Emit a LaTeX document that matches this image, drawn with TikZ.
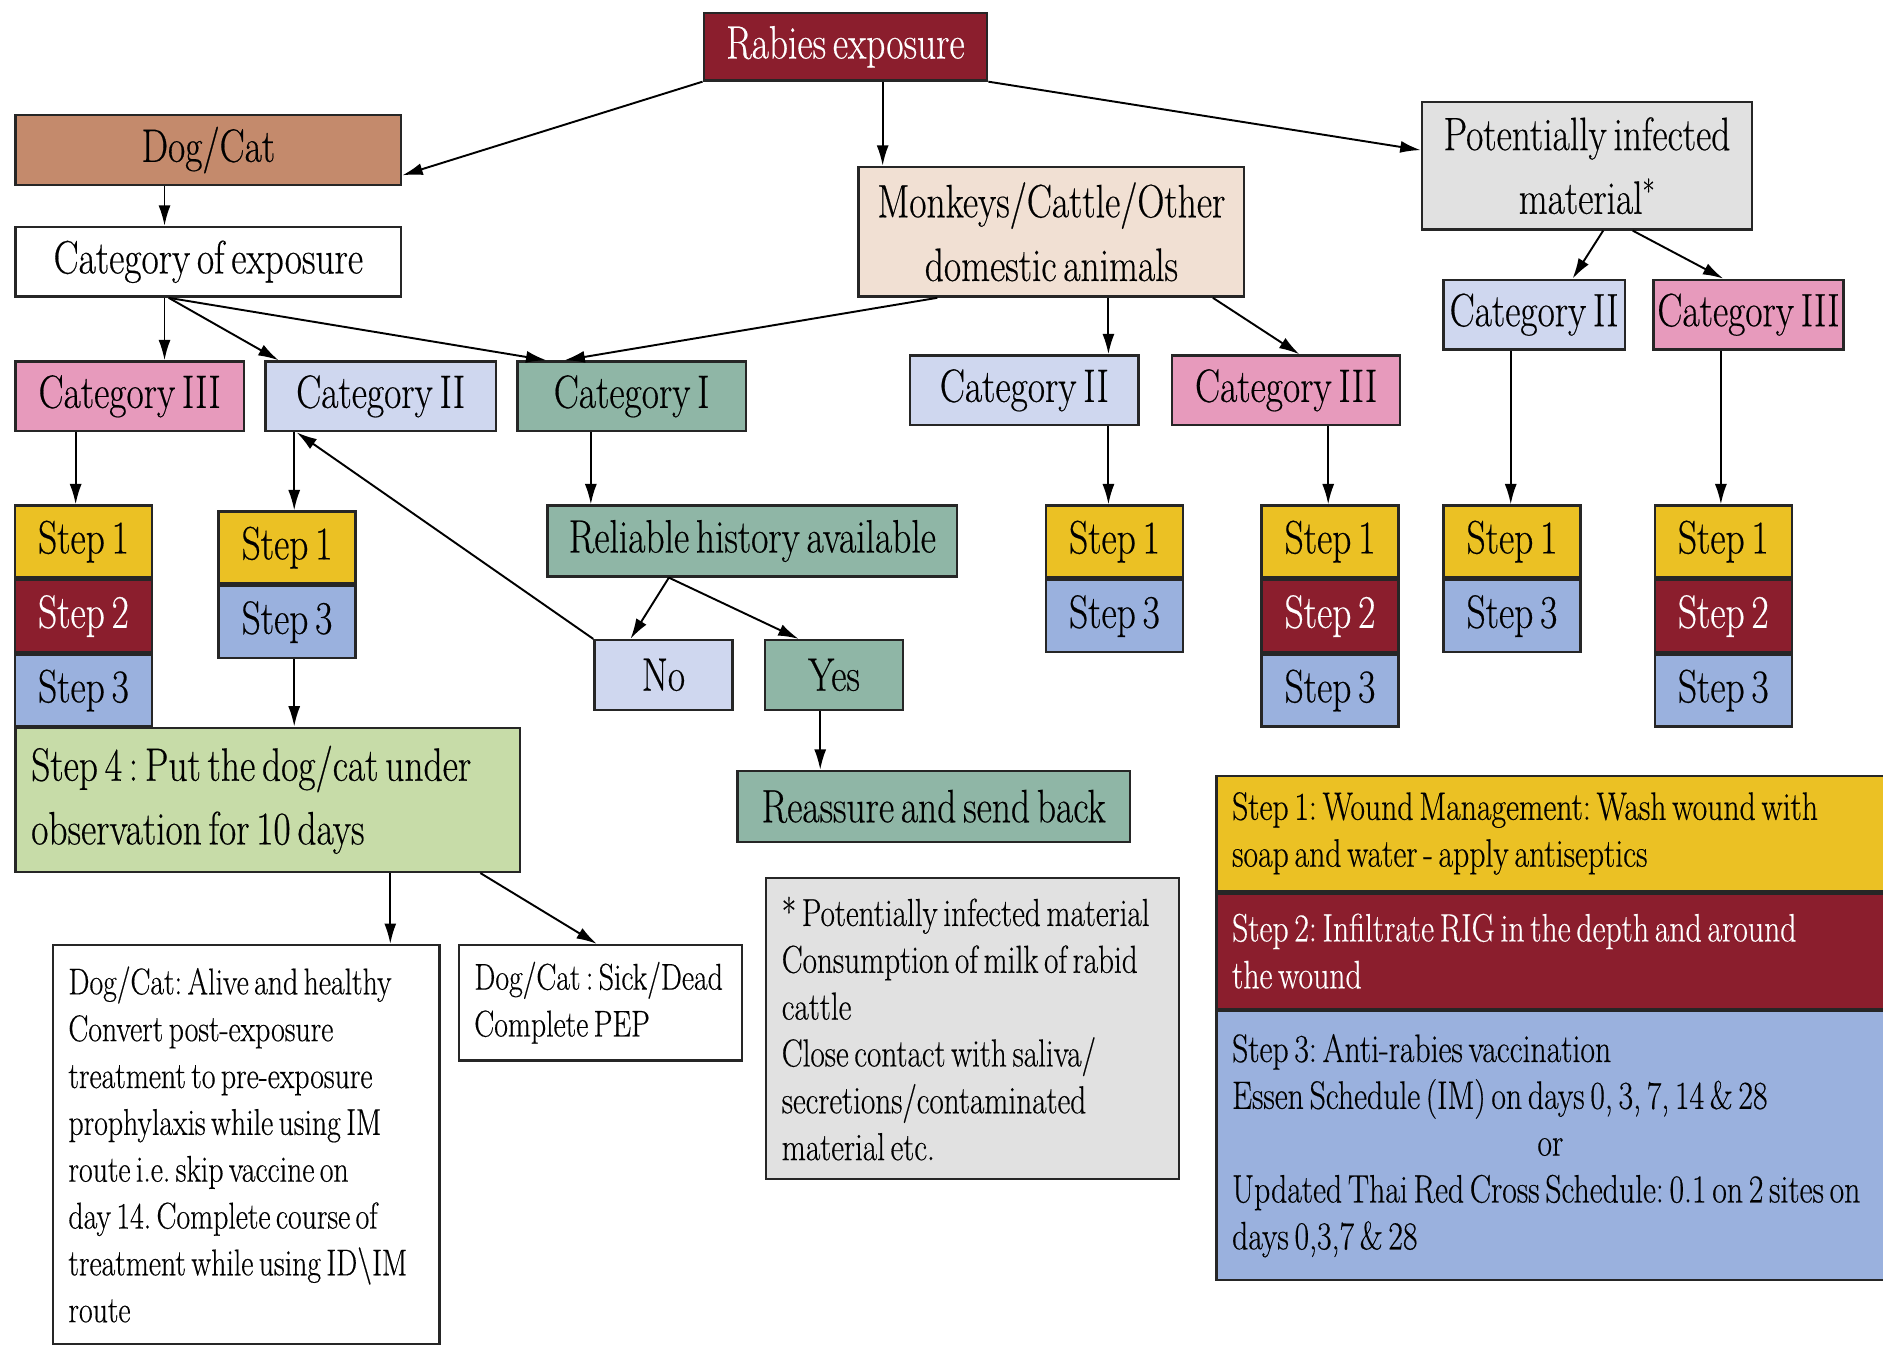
\documentclass[tikz,border=0pt]{standalone}
\usepackage{fontspec}
\setmainfont{Latin Modern Roman}[FakeStretch=0.8, WordSpace=0.6, FakeBold=0.4]
\usetikzlibrary{positioning,arrows.meta}

\definecolor{rabred}{HTML}{8B1E2D}
\definecolor{dogbrown}{HTML}{C48A6C}
\definecolor{monbeige}{HTML}{F1E0D3}
\definecolor{pimgrey}{HTML}{E1E1E1}
\definecolor{catpink}{HTML}{E79ABC}
\definecolor{catlav}{HTML}{CFD7EF}
\definecolor{cateal}{HTML}{8FB6A6}
\definecolor{stepyel}{HTML}{EBC124}
\definecolor{stepblue}{HTML}{9AB1DE}
\definecolor{stfour}{HTML}{C7DCA8}

\tikzset{
  box/.style={draw=black!85, line width=2pt, inner sep=0pt, minimum height=58pt,
    font=\fontsize{39}{53}\selectfont, align=center},
  catone/.style={box, fill=cateal, minimum width=190pt},
  cattwo/.style={box, fill=catlav, minimum width=190pt},
  catthree/.style={box, fill=catpink, minimum width=190pt},
  stepone/.style={box, fill=stepyel, minimum width=114pt, minimum height=60pt},
  steptwo/.style={box, fill=rabred, text=white, minimum width=114pt, minimum height=60pt},
  stepthree/.style={box, fill=stepblue, minimum width=114pt, minimum height=60pt},
  notebox/.style={draw=black!85, line width=2pt, inner xsep=13pt, inner ysep=0pt,
    align=left, font=\fontsize{31}{39}\selectfont, anchor=north west,
    execute at begin node={\frenchspacing\spaceskip=\fontdimen2\font\xspaceskip=\fontdimen2\font}},
  legbox/.style={notebox, font=\fontsize{33}{39}\selectfont, text width=560pt},
  link/.style={->, line width=1.6pt, >={Latex[length=17pt,width=10pt]}}
}

\begin{document}
\begin{tikzpicture}[x=1pt, y=-1pt]
    \clip (0,0) rectangle (1568,1122);

    \node[box, fill=rabred, text=white, minimum width=236pt, minimum height=56pt] (rab) at (704,39) {Rabies exposure};
    \node[box, fill=dogbrown, minimum width=321pt] (dog) at (173.5,125) {Dog/Cat};
    \node[box, fill=white, minimum width=321pt] (coe) at (173.5,218) {Category of exposure};
    \node[box, fill=monbeige, minimum width=321pt, minimum height=108pt] (mon) at (875.5,193) {Monkeys/Cattle/Other\\domestic animals};
    \node[box, fill=pimgrey, minimum width=275pt, minimum height=106pt] (pim) at (1321.5,138) {Potentially infected\\material\textsuperscript{*}};

    \node[catthree] (c3a) at (108,330) {Category III};
    \node[cattwo, minimum width=192pt] (c2a) at (317,330) {Category II};
    \node[catone] (c1a) at (526,330) {Category I};
    \node[cattwo] (c2b) at (853,325) {Category II};
    \node[catthree] (c3b) at (1071,325) {Category III};
    \node[cattwo, minimum width=151pt] (c2c) at (1277.5,262) {Category II};
    \node[catthree, minimum width=158pt] (c3c) at (1456,262) {Category III};

    \node[stepone, anchor=north] (s1a) at (69.5,420) {Step 1};
    \node[steptwo, below=0pt of s1a] (s2a) {Step 2};
    \node[stepthree, below=0pt of s2a] (s3a) {Step 3};
    \node[stepone, anchor=north] (s1b) at (239,425) {Step 1};
    \node[stepthree, below=0pt of s1b] (s3b) {Step 3};
    \node[stepone, anchor=north] (s1c) at (928,420) {Step 1};
    \node[stepthree, below=0pt of s1c] (s3c) {Step 3};
    \node[stepone, anchor=north] (s1d) at (1107.5,420) {Step 1};
    \node[steptwo, below=0pt of s1d] (s2d) {Step 2};
    \node[stepthree, below=0pt of s2d] (s3d) {Step 3};
    \node[stepone, anchor=north] (s1e) at (1259,420) {Step 1};
    \node[stepthree, below=0pt of s1e] (s3e) {Step 3};
    \node[stepone, anchor=north] (s1f) at (1435,420) {Step 1};
    \node[steptwo, below=0pt of s1f] (s2f) {Step 2};
    \node[stepthree, below=0pt of s2f] (s3f) {Step 3};

    \node[box, fill=cateal, minimum width=341pt, minimum height=59pt] (rel) at (626.5,450.5) {Reliable history available};
    \node[box, fill=catlav, minimum width=115pt] (no) at (552.5,562) {No};
    \node[box, fill=cateal, minimum width=115pt] (yes) at (694.5,562) {Yes};
    \node[box, fill=cateal, minimum width=327pt, minimum height=59pt] (reas) at (777.5,671.5) {Reassure and send back};

    \node[notebox, fill=stfour, font=\fontsize{39}{53}\selectfont, text width=394pt, minimum height=120pt] (st4) at (12,605)
        {Step 4 : Put the dog/cat under\\observation for 10 days};
    \node[notebox, fill=white, text width=296pt, minimum height=332pt] (alive) at (43,786)
        {Dog/Cat: Alive and healthy\\Convert post-exposure\\treatment to pre-exposure\\prophylaxis while using IM\\route i.e. skip vaccine on\\day 14. Complete course of\\treatment while using ID\textbackslash IM\\route};
    \node[notebox, fill=white, text width=210pt, minimum height=96pt] (sick) at (381,786)
        {Dog/Cat : Sick/Dead\\Complete PEP};
    \node[notebox, fill=pimgrey, font=\fontsize{32.5}{39}\selectfont, text width=318pt, minimum height=251pt] (star) at (637,730)
        {* Potentially infected material\\Consumption of milk of rabid\\cattle\\Close contact with saliva/\\secretions/contaminated\\material etc.};

    \node[legbox, fill=stepyel, minimum height=96pt] (leg1) at (1012,645)
        {Step 1: Wound Management: Wash wound with\\soap and water - apply antiseptics};
    \node[legbox, fill=rabred, text=white, minimum height=96pt, below=0pt of leg1] (leg2)
        {Step 2: Infiltrate RIG in the depth and around\\the wound};
    \node[legbox, fill=stepblue, minimum height=224pt, below=0pt of leg2] (leg3)
        {Step 3: Anti-rabies vaccination\\Essen Schedule (IM) on days 0, 3, 7, 14 \& 28\\\makebox[530pt]{or}\\Updated Thai Red Cross Schedule: 0.1 on 2 sites on\\days 0,3,7 \& 28};

    \draw[link] (rab.south west) -- ([yshift=-21pt]dog.east);
    \draw[link] ([xshift=31pt]rab.south) -- ([xshift=31pt]rab.south |- mon.north);
    \draw[link] (rab.south east) -- ([yshift=13pt]pim.west);
    \draw[link] ([xshift=-36.5pt]dog.south) -- ([xshift=-36.5pt]coe.north);
    \draw[link] ([xshift=-36.5pt]coe.south) -- ([xshift=-36.5pt]coe.south |- c3a.north);
    \draw[link] ([xshift=-33pt]coe.south) -- ([xshift=12pt]c2a.north west);
    \draw[link] ([xshift=-33pt]coe.south) -- ([xshift=25pt]c1a.north west);
    \draw[link] ([xshift=-95pt]mon.south) -- ([xshift=40pt]c1a.north west);
    \draw[link] ([xshift=47.5pt]mon.south) -- ([xshift=47.5pt]mon.south |- c2b.north);
    \draw[link] ([xshift=-27pt]mon.south east) -- ([xshift=11pt]c3b.north);
    \draw[link] ([xshift=13.5pt]pim.south) -- ([xshift=32pt]c2c.north);
    \draw[link] ([xshift=38pt]pim.south) -- ([xshift=-21pt]c3c.north);

    \draw[link] ([xshift=-45pt]c3a.south) -- ([xshift=-45pt]c3a.south |- s1a.north);
    \draw[link] ([xshift=-72pt]c2a.south) -- ([xshift=-72pt]c2a.south |- s1b.north);
    \draw[link] ([xshift=-34pt]c1a.south) -- ([xshift=-34pt]c1a.south |- rel.north);
    \draw[link] ([xshift=70pt]c2b.south) -- ([xshift=70pt]c2b.south |- s1c.north);
    \draw[link] ([xshift=35pt]c3b.south) -- ([xshift=35pt]c3b.south |- s1d.north);
    \draw[link] ([xshift=-19.5pt]c2c.south) -- ([xshift=-19.5pt]c2c.south |- s1e.north);
    \draw[link] ([xshift=-23pt]c3c.south) -- ([xshift=-23pt]c3c.south |- s1f.north);

    \draw[link] ([xshift=-69.5pt]rel.south) -- ([xshift=-27.5pt]no.north);
    \draw[link] ([xshift=-69.5pt]rel.south) -- ([xshift=-29.5pt]yes.north);
    \draw[link] (no.north west) -- ([xshift=-70pt]c2a.south);
    \draw[link] ([xshift=-11.5pt]yes.south) -- ([xshift=-11.5pt]yes.south |- reas.north);
    \draw[link] ([xshift=6pt]s3b.south) -- ([xshift=6pt]s3b.south |- st4.north);
    \draw[link] ([xshift=102pt]st4.south) -- ([xshift=102pt]st4.south |- alive.north);
    \draw[link] ([xshift=-34pt]st4.south east) -- ([xshift=-3pt]sick.north);
\end{tikzpicture}
\end{document}
